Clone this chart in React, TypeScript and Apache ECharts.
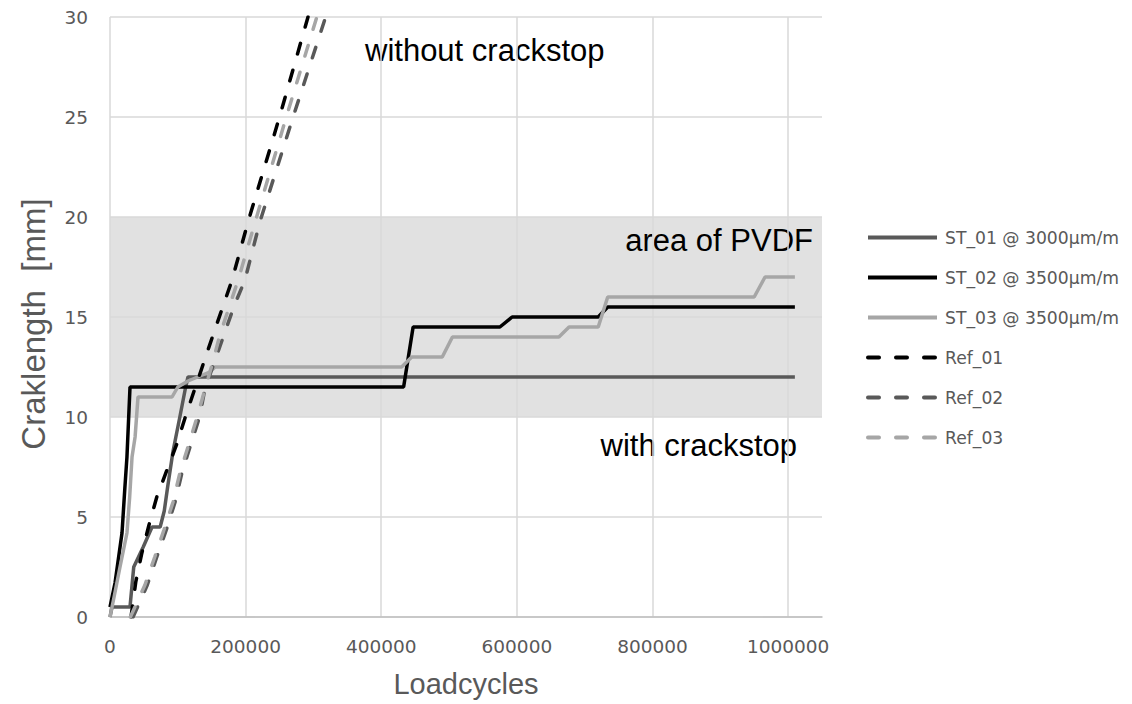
import { useEffect, useRef } from "react";
import * as echarts from "echarts";

// Crack length [mm] over load cycles, [cycles, mm]
const st01: [number, number][] = [
  [0, 0], [3000, 0.5], [29500, 0.5], [35000, 2.5], [49000, 3.5], [62000, 4.5], [74000, 4.5],
  [80000, 5.3], [85000, 6.5], [93000, 8.3], [103000, 10], [111000, 11.4], [115000, 12], [1010000, 12],
];
const st02: [number, number][] = [
  [0, 0.5], [7400, 1.7], [17700, 4.2], [22000, 6.5], [25000, 8], [29500, 11.5], [433000, 11.5],
  [447000, 14.5], [575000, 14.5], [593000, 15], [720000, 15], [734000, 15.5], [1010000, 15.5],
];
const st03: [number, number][] = [
  [0, 0], [6000, 1], [14750, 2.5], [25000, 4.2], [29000, 6], [32500, 8], [37000, 9], [41300, 11],
  [91500, 11], [100000, 11.5], [115000, 11.8], [147000, 12.25], [155000, 12.5], [430000, 12.5],
  [445000, 13], [490000, 13], [505000, 14], [662000, 14], [677000, 14.5], [720000, 14.5],
  [734000, 16], [950000, 16], [966000, 17], [1010000, 17],
];
const ref01: [number, number][] = [
  [31000, 0], [38000, 1.75], [47000, 3.2], [57500, 4.6], [69000, 6], [84000, 7.35], [99000, 8.7],
  [113000, 10.2], [125000, 11.4], [152000, 14.1], [180000, 16.85], [203500, 19.75], [250000, 25], [292000, 30],
];
const ref02: [number, number][] = [
  [34000, 0], [55000, 1.6], [69000, 3.0], [83000, 4.35], [96000, 5.75], [106000, 7.2], [118000, 8.5],
  [132000, 10], [140000, 11.4], [168000, 14.1], [183000, 15.55], [199000, 16.85], [221000, 19.75],
  [270000, 25], [318000, 30],
];
const ref03: [number, number][] = [
  [30000, 0], [51500, 1.6], [66000, 3.0], [79500, 4.35], [93000, 5.75], [103000, 7.2], [115000, 8.5],
  [128000, 9.95], [152000, 12.8], [162000, 14.1], [189000, 16.85], [214000, 19.75], [260000, 25], [305000, 30],
];

const seriesNames = [
  "ST_01 @ 3000µm/m",
  "ST_02 @ 3500µm/m",
  "ST_03 @ 3500µm/m",
  "Ref_01",
  "Ref_02",
  "Ref_03",
];
const seriesData = [st01, st02, st03, ref01, ref02, ref03];
const seriesColors = ["#595959", "#000000", "#a6a6a6", "#000000", "#595959", "#a6a6a6"];
const seriesDashed = [false, false, false, true, true, true];

// PVDF region on the crack-length axis
const pvdfBand: [number, number] = [10, 20];

const xAxisRange = { min: 0, max: 1050000, interval: 200000 };
const yAxisRange = { min: 0, max: 30, interval: 5 };

const xTitle = "Loadcycles";
const yTitle = "Craklength  [mm]";
const noteWithout = "without crackstop";
const noteArea = "area of PVDF";
const noteWith = "with crackstop";

// One fill per y interval: shaded where the interval lies in the PVDF band
function bandColors(): string[] {
  const out: string[] = [];
  for (let lo = yAxisRange.min; lo < yAxisRange.max; lo += yAxisRange.interval) {
    const hi = lo + yAxisRange.interval;
    out.push(lo >= pvdfBand[0] && hi <= pvdfBand[1] ? "#e1e1e1" : "rgba(255,255,255,0)");
  }
  return out;
}

export default function App() {
  const ref = useRef<HTMLDivElement>(null);

  useEffect(() => {
    if (!ref.current) return;
    const chart = echarts.init(ref.current, undefined, { renderer: "svg" });

    const lines = seriesData.map((data, i) => ({
      name: seriesNames[i],
      type: "line",
      data,
      symbol: "none",
      showSymbol: false,
      clip: true,
      z: 3,
      itemStyle: { color: seriesColors[i] },
      lineStyle: {
        color: seriesColors[i],
        width: 3.5,
        type: seriesDashed[i] ? [11, 17] : "solid",
        cap: seriesDashed[i] ? "round" : "butt",
      },
    }));

    chart.setOption({
      animation: false,
      backgroundColor: "#ffffff",
      grid: { left: 110, right: 310, top: 17, bottom: 87, containLabel: false },
      legend: {
        orient: "vertical",
        left: 861,
        top: 224,
        itemWidth: 69,
        itemHeight: 14,
        itemGap: 23,
        data: seriesNames,
        itemStyle: { opacity: 0, borderWidth: 0 },
        lineStyle: { width: 4 },
        textStyle: {
          color: "#595959",
          fontFamily: "DejaVu Sans",
          fontSize: 17.2,
          padding: [0, 0, 0, 3],
        },
      },
      xAxis: {
        type: "value",
        min: xAxisRange.min,
        max: xAxisRange.max,
        interval: xAxisRange.interval,
        name: xTitle,
        nameLocation: "middle",
        nameGap: 52,
        nameTextStyle: { color: "#595959", fontFamily: "Liberation Sans", fontSize: 29 },
        axisLine: { show: true, lineStyle: { color: "#bfbfbf", width: 1.5 } },
        axisTick: { show: false },
        axisLabel: {
          color: "#595959",
          fontFamily: "DejaVu Sans",
          fontSize: 18.5,
          margin: 20,
          showMaxLabel: false,
          formatter: (v: number) => String(v),
        },
        splitLine: { show: true, showMaxLine: false, lineStyle: { color: "#d9d9d9", width: 1.5 } },
      },
      yAxis: {
        type: "value",
        z: -1,
        min: yAxisRange.min,
        max: yAxisRange.max,
        interval: yAxisRange.interval,
        name: yTitle,
        nameLocation: "middle",
        nameGap: 60,
        nameTextStyle: {
          color: "#595959",
          fontFamily: "Liberation Sans",
          fontSize: 33,
          padding: [0, 14, 0, 0],
        },
        axisLine: { show: false },
        axisTick: { show: false },
        axisLabel: { color: "#595959", fontFamily: "DejaVu Sans", fontSize: 18.5, margin: 22 },
        splitArea: { show: true, areaStyle: { color: bandColors() } },
        splitLine: { show: true, lineStyle: { color: "#d9d9d9", width: 1.5 } },
      },
      series: lines,
      graphic: [
        {
          type: "text",
          x: 365,
          y: 50,
          style: {
            text: noteWithout,
            fill: "#000000",
            font: "31px 'Liberation Sans'",
            textAlign: "left",
            textVerticalAlign: "middle",
          },
        },
        {
          type: "text",
          x: 813,
          y: 240,
          style: {
            text: noteArea,
            fill: "#000000",
            font: "31px 'Liberation Sans'",
            textAlign: "right",
            textVerticalAlign: "middle",
          },
        },
        {
          type: "text",
          x: 797,
          y: 445,
          style: {
            text: noteWith,
            fill: "#000000",
            font: "31px 'Liberation Sans'",
            textAlign: "right",
            textVerticalAlign: "middle",
          },
        },
      ],
    });

    return () => chart.dispose();
  }, []);

  return (
    <div
      ref={ref}
      style={{ position: "fixed", left: 0, top: 0, width: 1132, height: 704, background: "#fff" }}
    />
  );
}
